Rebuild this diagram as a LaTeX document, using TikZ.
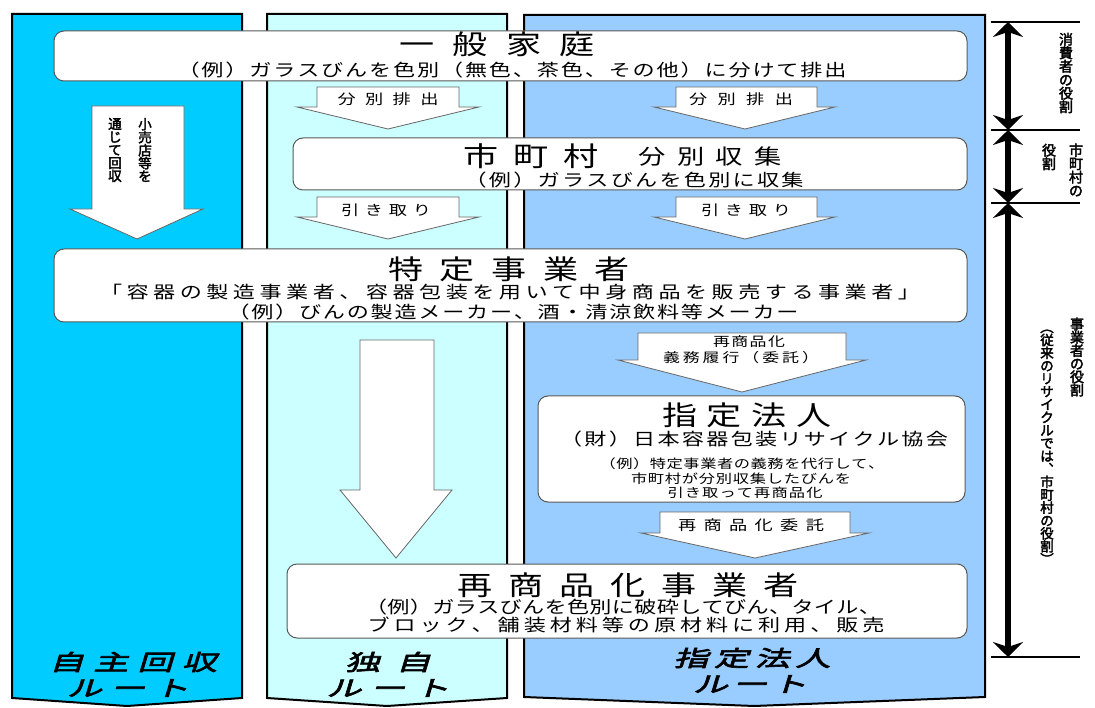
\documentclass[tikz,border=0pt]{standalone}
\usepackage{fontspec}
\usetikzlibrary{arrows.meta}
\newfontfamily\jp[FakeStretch=1.3]{Noto Sans CJK JP}
\newfontfamily\jpsl[FakeSlant=0.3,FakeBold=3,FakeStretch=1.6]{Noto Sans CJK JP}
\newfontfamily\jpfb[FakeBold=2.5]{Noto Sans CJK JP}
\definecolor{colL}{HTML}{00CCFF}
\definecolor{colM}{HTML}{CCFFFF}
\definecolor{colR}{HTML}{99CCFF}
\makeatletter
\def\spr#1#2\relax{#1\if\relax\detokenize{#2}\relax\expandafter\@gobble\else\hfil\expandafter\@firstofone\fi{\spr#2\relax}}
\def\vspr#1#2\relax{\hbox to 1.3em{\hss#1\hss}\if\relax\detokenize{#2}\relax\expandafter\@gobble\else\expandafter\@firstofone\fi{\vspr#2\relax}}
\makeatother
\newcommand\hl[3]{\hbox to #1pt{\fontsize{#2}{#2}\selectfont\spr#3\relax}}
\newcommand\vl[3]{\vbox{\fontsize{#2}{#2}\selectfont\baselineskip=#1pt\lineskiplimit=-100pt\lineskip=0pt\vspr#3\relax}}
\newcommand\barrow[8]{\draw[barrowst] (#1,#5) -- (#2,#5) -- (#2,#6) -- (#4,#6) -- (#7,#8) -- (#3,#6) -- (#1,#6) -- cycle;}
\tikzset{
  colst/.style={line width=2pt, draw=black},
  boxst/.style={draw=black!65, fill=white, rounded corners=10pt, line width=1pt, inner sep=0pt},
  barrowst/.style={draw=black!60, fill=white, line width=0.8pt},
  txt/.style={inner sep=0pt, font=\jp},
  btxt/.style={inner sep=0pt, font=\jpsl},
  vtxt/.style={inner sep=0pt, font=\jpfb},
  rbar/.style={line width=6pt, {Stealth[length=15pt,width=30pt,inset=5pt]}-{Stealth[length=15pt,width=30pt,inset=5pt]}},
  tick/.style={line width=2pt}
}
\begin{document}
\begin{tikzpicture}[x=1pt,y=-1pt]
\useasboundingbox (0,0) rectangle (1095,708);
\fill[white] (0,0) rectangle (1095,708);
% columns
\filldraw[colst, fill=colL] (12,14) -- (242,14) -- (242,698) -- (127,706) -- (12,698) -- cycle;
\filldraw[colst, fill=colM] (267,14) -- (507,14) -- (507,698) -- (387,706) -- (267,698) -- cycle;
\filldraw[colst, fill=colR] (524,15) -- (985,15) -- (985,697) -- (754,706) -- (524,697) -- cycle;
% arrows
\barrow{317}{459}{297}{479}{87}{107}{388}{129}
\barrow{676}{817}{654}{835}{87}{107}{745}{129}
\barrow{317}{459}{297}{479}{197}{217}{388}{239}
\barrow{676}{817}{654}{835}{197}{217}{745}{239}
\barrow{92}{184}{70}{203}{106}{209}{137}{239}
\barrow{360}{434}{340}{452}{340}{490}{396}{558}
\barrow{638}{846}{618}{866}{333}{360}{742}{392}
\barrow{660}{850}{641}{869}{512}{533}{755}{558}
% boxes
\node[boxst, minimum width=913pt, minimum height=50pt] (bxA) at (510.5,56) {};
\node[boxst, minimum width=674pt, minimum height=52pt] (bxB) at (630,164) {};
\node[boxst, minimum width=913pt, minimum height=73pt] (bxC) at (510.5,285.5) {};
\node[boxst, minimum width=427pt, minimum height=106pt] (bxD) at (751.5,449) {};
\node[boxst, minimum width=680pt, minimum height=74pt] (bxE) at (627,601) {};
% box texts
\node[txt] (tA) at (497,44) {\hl{195}{27}{一般家庭}};
\node[txt] (tAs) at (512,70) {\hl{669}{17}{（例）ガラスびんを色別（無色、茶色、その他）に分けて排出}};
\node[txt] (tB) at (531,156) {\hl{136}{27}{市町村}};
\node[txt] (tB2) at (710,157) {\hl{143}{21}{分別収集}};
\node[txt] (tBs) at (634,180) {\hl{339}{17}{（例）ガラスびんを色別に収集}};
\node[txt] (tC) at (509,269) {\hl{242}{27}{特定事業者}};
\node[txt] (tC2) at (510,292) {\hl{820}{17}{「容器の製造事業者、容器包装を用いて中身商品を販売する事業者」}};
\node[txt] (tC3) at (513,312) {\hl{571}{17}{（例）びんの製造メーカー、酒・清涼飲料等メーカー}};
\node[txt] (tD) at (747,415) {\hl{170}{27}{指定法人}};
\node[txt] (tD2) at (754,439) {\hl{388}{17}{（財）日本容器包装リサイクル協会}};
\node[txt] (tD3) at (742,464) {\hl{285}{12.5}{（例）特定事業者の義務を代行して、}};
\node[txt] (tD4) at (741,479) {\hl{220}{12.5}{市町村が分別収集したびんを}};
\node[txt] (tD5) at (745,493) {\hl{155}{12.5}{引き取って再商品化}};
\node[txt] (tE) at (628,585) {\hl{342}{27}{再商品化事業者}};
\node[txt] (tE2) at (623,607) {\hl{516}{17}{（例）ガラスびんを色別に破砕してびん、タイル、}};
\node[txt] (tE3) at (626,625) {\hl{517}{17}{ブロック、舗装材料等の原材料に利用、販売}};
% arrow labels
\node[txt] (lA1) at (388,99) {\hl{101}{14}{分別排出}};
\node[txt] (lA2) at (741,99) {\hl{104}{14}{分別排出}};
\node[txt] (lB1) at (386,210) {\hl{90}{14}{引き取り}};
\node[txt] (lB2) at (746,210) {\hl{90}{14}{引き取り}};
\node[txt] (lC1) at (749,342) {\hl{72}{13}{再商品化}};
\node[txt] (lC2) at (741,358) {\hl{156}{13}{義務履行（委託）}};
\node[txt] (lD) at (751,525) {\hl{146}{14}{再商品化委託}};
\node[vtxt] (lL1) at (145,150) {\vl{13}{13.5}{小売店等を}};
\node[vtxt] (lL2) at (115,150) {\vl{13}{13.5}{通じて回収}};
% bottom labels
\node[btxt] (bL1) at (133,662) {\hl{168}{22}{自主回収}};
\node[btxt] (bL2) at (128,688) {\hl{122}{22}{ルート}};
\node[btxt] (bM1) at (388,662) {\hl{86}{22}{独自}};
\node[btxt] (bM2) at (388,688) {\hl{123}{22}{ルート}};
\node[btxt] (bR1) at (752,658) {\hl{157}{22}{指定法人}};
\node[btxt] (bR2) at (750,684) {\hl{114}{22}{ルート}};
% right side scale
\coordinate (r0) at (1008,22);
\coordinate (r1) at (1008,130);
\coordinate (r2) at (1008,203);
\coordinate (r3) at (1008,657);
\coordinate (k0l) at (991,22);  \coordinate (k0r) at (1080,22);
\coordinate (k1l) at (991,130); \coordinate (k1r) at (1080,130);
\coordinate (k2l) at (991,203); \coordinate (k2r) at (1080,203);
\coordinate (k3l) at (991,657); \coordinate (k3r) at (1080,657);
\draw[tick] (k0l) -- (k0r);
\draw[tick] (k1l) -- (k1r);
\draw[tick] (k2l) -- (k2r);
\draw[tick] (k3l) -- (k3r);
\draw[rbar] (r0) -- (r1);
\draw[rbar] (r1) -- (r2);
\draw[rbar] (r2) -- (r3);
\node[vtxt] (v1) at (1066,73) {\vl{13.5}{14}{消費者の役割}};
\node[vtxt] (v2) at (1076,170) {\vl{13.5}{14}{市町村の}};
\node[vtxt] (v3) at (1049,157) {\vl{13.5}{14}{役割}};
\node[vtxt] (v4) at (1077,357) {\vl{13.2}{14}{事業者の役割}};
\node[vtxt] (v5) at (1047,447) {\vl{12.9}{13.5}{︵従来のリサイクルでは︑市町村の役割︶}};
\end{tikzpicture}
\end{document}
